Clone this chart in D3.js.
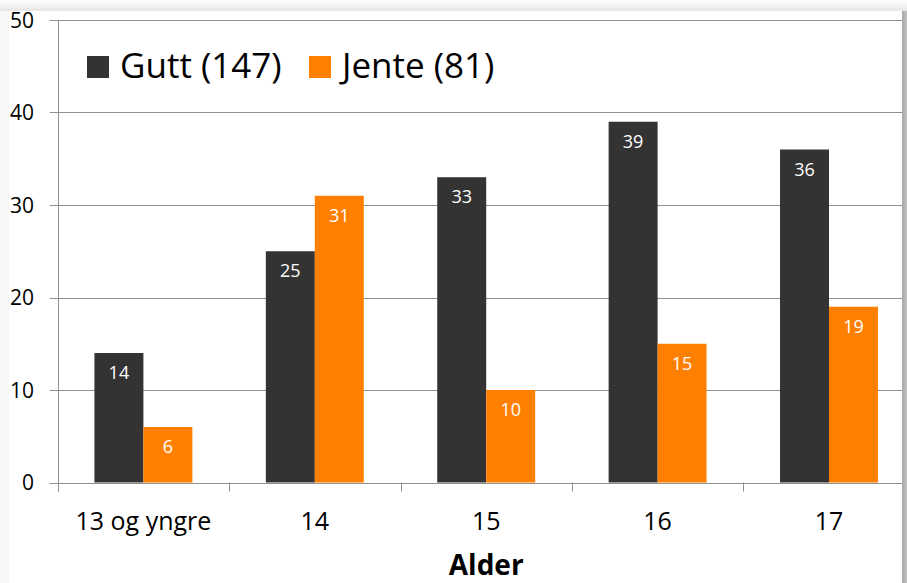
<!DOCTYPE html>
<html>
<head>
<meta charset="utf-8">
<script src="https://cdn.jsdelivr.net/npm/d3@7"></script>
<style>
  body { margin: 0; background: #fff; }
  svg { display: block; font-family: "Open Sans", sans-serif; }
</style>
</head>
<body>
<svg width="907" height="583"></svg>
<script>
var categories = ["13 og yngre", "14", "15", "16", "17"];
var seriesNames = ["Gutt (147)", "Jente (81)"];
var gutt = [14, 25, 33, 39, 36];
var jente = [6, 31, 10, 15, 19];
var yTicks = [0, 10, 20, 30, 40, 50];
var colors = ["#333333", "#ff8000"];

var svg = d3.select("svg");
var defs = svg.append("defs");

// background panel with soft shadow
var topShadow = defs.append("linearGradient").attr("id", "topShadow")
    .attr("x1", 0).attr("y1", 0).attr("x2", 0).attr("y2", 1);
topShadow.append("stop").attr("offset", "0%").attr("stop-color", "#ffffff");
topShadow.append("stop").attr("offset", "100%").attr("stop-color", "#e6e6e6");

var rightShadow = defs.append("linearGradient").attr("id", "rightShadow")
    .attr("x1", 0).attr("y1", 0).attr("x2", 1).attr("y2", 0);
rightShadow.append("stop").attr("offset", "0%").attr("stop-color", "#a8a8a8");
rightShadow.append("stop").attr("offset", "100%").attr("stop-color", "#c4c4c4");

svg.append("rect").attr("x", 0).attr("y", 0).attr("width", 907).attr("height", 11)
    .attr("fill", "url(#topShadow)");
svg.append("rect").attr("x", 0).attr("y", 11).attr("width", 9).attr("height", 572)
    .attr("fill", "#f7f7f7");
svg.append("rect").attr("x", 9).attr("y", 11).attr("width", 893).attr("height", 572)
    .attr("fill", "#ffffff");

var plotLeft = 57.7, plotRight = 914.7, plotTop = 20, plotBottom = 482.5;

var y = d3.scaleLinear().domain([0, 50]).range([plotBottom, plotTop]);
var x0 = d3.scaleBand().domain(categories).range([plotLeft, plotRight]).paddingInner(0).paddingOuter(0);
var x1 = d3.scaleBand().domain(seriesNames).range([0, x0.bandwidth()]).paddingInner(0).paddingOuter(0.75);

var chart = svg.append("g");

// gridlines
chart.append("g")
  .selectAll("line")
  .data(yTicks)
  .enter().append("line")
    .attr("x1", plotLeft - 8)
    .attr("x2", 902)
    .attr("y1", function(d) { return Math.round(y(d)) + 0.5; })
    .attr("y2", function(d) { return Math.round(y(d)) + 0.5; })
    .attr("stroke", "#8f8f8f")
    .attr("stroke-width", 1);

// y tick labels
chart.append("g")
  .selectAll("text")
  .data(yTicks)
  .enter().append("text")
    .attr("x", 34)
    .attr("y", function(d) { return y(d); })
    .attr("dy", "0.36em")
    .attr("text-anchor", "end")
    .attr("font-size", 21)
    .attr("fill", "#000")
    .text(function(d) { return d; });

// bars
var series = [gutt, jente];
var rows = [];
categories.forEach(function(c, i) {
  seriesNames.forEach(function(s, j) {
    rows.push({ cat: c, name: s, idx: j, value: series[j][i] });
  });
});

var bar = chart.append("g")
  .selectAll("g")
  .data(rows)
  .enter().append("g");

bar.append("rect")
    .attr("x", function(d) { return x0(d.cat) + x1(d.name); })
    .attr("y", function(d) { return y(d.value); })
    .attr("width", x1.bandwidth())
    .attr("height", function(d) { return y(0) - y(d.value); })
    .attr("fill", function(d) { return colors[d.idx]; });

bar.append("text")
    .attr("x", function(d) { return x0(d.cat) + x1(d.name) + x1.bandwidth() / 2; })
    .attr("y", function(d) { return y(d.value) + 26; })
    .attr("text-anchor", "middle")
    .attr("font-size", 18)
    .attr("fill", "#fff")
    .text(function(d) { return d.value; });

// axes
chart.append("line")
    .attr("x1", Math.round(plotLeft) + 0.5).attr("x2", Math.round(plotLeft) + 0.5)
    .attr("y1", plotTop).attr("y2", plotBottom + 9)
    .attr("stroke", "#8f8f8f");

var boundaries = categories.map(function(c) { return x0(c); }).concat([plotRight]);
chart.append("g")
  .selectAll("line")
  .data(boundaries)
  .enter().append("line")
    .attr("x1", function(d) { return Math.round(d) + 0.5; })
    .attr("x2", function(d) { return Math.round(d) + 0.5; })
    .attr("y1", plotBottom)
    .attr("y2", plotBottom + 9)
    .attr("stroke", "#8f8f8f");

chart.append("g")
  .selectAll("text")
  .data(categories)
  .enter().append("text")
    .attr("x", function(d) { return x0(d) + x0.bandwidth() / 2; })
    .attr("y", 530)
    .attr("text-anchor", "middle")
    .attr("font-size", 25)
    .attr("fill", "#000")
    .text(function(d) { return d; });

chart.append("text")
    .attr("x", (plotLeft + plotRight) / 2)
    .attr("y", 575)
    .attr("text-anchor", "middle")
    .attr("font-size", 28)
    .attr("font-weight", "bold")
    .attr("fill", "#000")
    .text("Alder");

// legend
var legendX = [87, 309];
var legend = chart.append("g")
  .selectAll("g")
  .data(seriesNames)
  .enter().append("g")
    .attr("transform", function(d, i) { return "translate(" + legendX[i] + ",56)"; });

legend.append("rect")
    .attr("width", 22).attr("height", 22)
    .attr("fill", function(d, i) { return colors[i]; });

legend.append("text")
    .attr("x", 33)
    .attr("y", 22)
    .attr("font-size", 35)
    .attr("fill", "#000")
    .text(function(d) { return d; });

// right-hand shadow strip
svg.append("rect").attr("x", 902).attr("y", 11).attr("width", 5).attr("height", 572)
    .attr("fill", "url(#rightShadow)");
</script>
</body>
</html>
